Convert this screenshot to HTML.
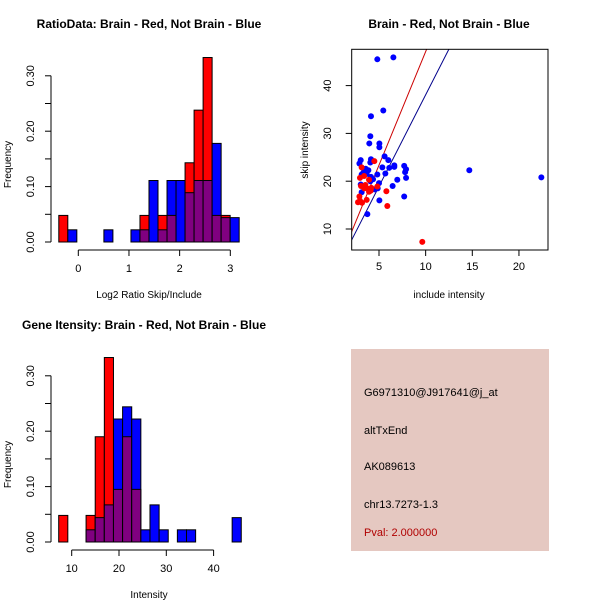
<!DOCTYPE html>
<html><head><meta charset="utf-8"><style>
body{margin:0;background:#fff}
svg text{font-family:"Liberation Sans",sans-serif}
</style></head><body>
<svg id="svg" width="600" height="600" xmlns="http://www.w3.org/2000/svg">
<rect width="600" height="600" fill="#fff"/>
<text x="149" y="28" font-size="12" font-weight="bold" text-anchor="middle">RatioData: Brain - Red, Not Brain - Blue</text>
<text x="449" y="28" font-size="12" font-weight="bold" text-anchor="middle">Brain - Red, Not Brain - Blue</text>
<text x="144" y="329" font-size="12" font-weight="bold" text-anchor="middle">Gene Itensity: Brain - Red, Not Brain - Blue</text>
<g id="p1"></g>
<g id="p2"></g>
<g id="p3"></g>
<g>
<rect x="351" y="349" width="198" height="202" fill="#e5c8c1"/>
<text x="364" y="396" font-size="11">G6971310@J917641@j_at</text>
<text x="364" y="434" font-size="11">altTxEnd</text>
<text x="364" y="470" font-size="11">AK089613</text>
<text x="364" y="508" font-size="11">chr13.7273-1.3</text>
<text x="364" y="536" font-size="11" fill="#b00000">Pval: 2.000000</text>
</g>
</svg>
<script>
// Ratio histogram data
const ratioBinStart = -0.385, ratioBinWidth = 0.178;
const ratioRed  = [0.048,0,0,0,0,0,0,0,0,0.048,0,0.048,0.048,0,0.143,0.238,0.333,0.048,0.048,0];
const ratioBlue = [0,0.022,0,0,0,0.022,0,0,0.022,0.022,0.111,0.022,0.111,0.111,0.089,0.111,0.111,0.178,0.044,0.044];
const ratioXTicks = [0,1,2,3];
const freqTicks = [0,0.05,0.10,0.15,0.20,0.25,0.30];
const freqLabels = ["0.00","","0.10","","0.20","","0.30"];
// Intensity histogram data
const intBinStart = 7.25, intBinWidth = 1.93;
const intRed  = [0.048,0,0,0.048,0.19,0.333,0.095,0.19,0.095,0,0,0,0,0,0,0,0,0,0,0];
const intBlue = [0,0,0,0.022,0.044,0.067,0.222,0.244,0.222,0.022,0.067,0.022,0,0.022,0.022,0,0,0,0,0.044];
const intXTicks = [10,20,30,40];
// Scatter data
const blueX = [4.82,6.54,5.46,4.14,4.07,3.96,5.04,5.04,5.6,6.0,3.04,4.14,4.07,2.9,5.36,6.1,6.64,6.64,7.7,7.9,7.8,5.68,4.82,3.57,3.86,3.32,3.68,3.14,4.14,4.36,4.07,6.96,7.9,5.0,3.04,3.14,6.46,4.86,4.54,3.14,7.7,5.04,3.75,14.68,22.4];
const blueY = [45.5,45.9,34.8,33.6,29.4,27.9,27.9,27.1,25.2,24.4,24.4,24.6,23.9,23.7,22.9,22.8,23.3,23.0,23.2,22.5,21.9,21.6,21.4,22.6,22.3,21.8,21.5,21.4,20.9,20.4,20.0,20.3,20.7,19.6,19.3,19.1,19.0,18.5,18.3,17.7,16.8,16.0,13.1,22.3,20.8];
const redX = [4.5,3.14,2.96,3.4,3.93,3.54,3.07,3.43,3.86,3.93,4.18,4.82,2.9,2.96,2.75,3.18,3.68,5.79,5.89,9.64,4.1];
const redY = [24.2,22.9,20.7,21.1,20.3,19.2,19.0,18.5,18.4,17.8,18.6,18.9,16.8,15.9,15.6,15.5,16.1,17.9,14.8,7.3,18.0];
const redFit = [-0.39,4.75], blueFit = [-0.23,3.83];
const scXTicks = [5,10,15,20], scYTicks = [10,20,30,40];

const NS="http://www.w3.org/2000/svg";
function mk(parent,tag,attrs){const e=document.createElementNS(NS,tag);for(const k in attrs)e.setAttribute(k,attrs[k]);parent.appendChild(e);return e;}

function hist(g,red,blue,start,width,xs,x0px,xTicks,y0,title){
  const ys=v=>y0-v*554;
  const xsc=v=>x0px+(v-xs[0])*xs[1];
  for(let i=0;i<red.length;i++){
    const r=red[i],b=blue[i];
    const L=xsc(start+i*width), R=xsc(start+(i+1)*width);
    const mx=Math.max(r,b), mn=Math.min(r,b);
    if(mx>0){
      const bar=mk(g,'rect',{x:L,y:ys(mx),width:R-L,height:ys(0)-ys(mx),fill:r>=b?'#ff0000':'#0000ff',stroke:'#000','stroke-width':1});
      
      
    }
    if(mn>0){
      const ov=mk(g,'rect',{x:L,y:ys(mn),width:R-L,height:ys(0)-ys(mn),fill:'#800080',stroke:'#000','stroke-width':1});
      
      
    }
  }
  const yax=mk(g,'g',{});
  
  
  mk(yax,'line',{x1:51,x2:51,y1:ys(0),y2:ys(0.30),stroke:'#000'});
  freqTicks.forEach((t,i)=>{
    mk(yax,'line',{x1:45,x2:51,y1:ys(t),y2:ys(t),stroke:'#000'});
    if(freqLabels[i]){const tx=mk(yax,'text',{x:0,y:0,'font-size':11,'text-anchor':'middle',transform:`translate(34,${ys(t)}) rotate(-90)`});tx.textContent=freqLabels[i];}
  });
  const yl=mk(g,'text',{'font-size':10,'text-anchor':'middle',transform:`translate(11,${ys(0.14)}) rotate(-90)`});
  yl.textContent='Frequency';
  
  
  const xax=mk(g,'g',{});
  
  
  const ay=y0+8;
  mk(xax,'line',{x1:xsc(xTicks[0]),x2:xsc(xTicks[xTicks.length-1]),y1:ay,y2:ay,stroke:'#000'});
  xTicks.forEach(t=>{mk(xax,'line',{x1:xsc(t),x2:xsc(t),y1:ay,y2:ay+6,stroke:'#000'});const tx=mk(xax,'text',{x:xsc(t),y:ay+22,'font-size':11,'text-anchor':'middle'});tx.textContent=t;});
  const xl=mk(g,'text',{x:149,y:y0+56,'font-size':10,'text-anchor':'middle'});
  xl.textContent=title;
  
  
}
hist(document.getElementById('p1'),ratioRed,ratioBlue,ratioBinStart,ratioBinWidth,[0,50.67],78.3,ratioXTicks,242,'Log2 Ratio Skip/Include');
hist(document.getElementById('p3'),intRed,intBlue,intBinStart,intBinWidth,[10,4.73],71.7,intXTicks,542,'Intensity');

// scatter
(function(){
  const g=document.getElementById('p2');
  const L=351.7,R=548,T=49.3,B=250;
  const xs=v=>379+(v-5)*9.33, ys=v=>229-(v-10)*4.78;
  const cp=mk(g,'clipPath',{id:'clip'});mk(cp,'rect',{x:L,y:T,width:R-L,height:B-T});
  [[redFit,'#cc0000','red-fit-line'],[blueFit,'#00008b','blue-fit-line']].forEach(([f,c,n])=>{
    const xa=1,xb=15;
    const ln=mk(g,'line',{x1:xs(xa),y1:ys(f[0]+f[1]*xa),x2:xs(xb),y2:ys(f[0]+f[1]*xb),stroke:c,'stroke-width':1,'clip-path':'url(#clip)'});
    
    
  });
  blueX.forEach((x,i)=>{const p=mk(g,'circle',{cx:xs(x),cy:ys(blueY[i]),r:3,fill:'#0000ff'});
    
    });
  redX.forEach((x,i)=>{const p=mk(g,'circle',{cx:xs(x),cy:ys(redY[i]),r:3,fill:'#ff0000'});
    
    });
  const box=mk(g,'rect',{x:L,y:T,width:R-L,height:B-T,fill:'none',stroke:'#000'});
  
  
  scXTicks.forEach(t=>{mk(g,'line',{x1:xs(t),x2:xs(t),y1:B,y2:B+6,stroke:'#000'});const tx=mk(g,'text',{x:xs(t),y:B+20,'font-size':11,'text-anchor':'middle'});tx.textContent=t;});
  scYTicks.forEach(t=>{mk(g,'line',{x1:L-6,x2:L,y1:ys(t),y2:ys(t),stroke:'#000'});const tx=mk(g,'text',{'font-size':11,'text-anchor':'middle',transform:`translate(331,${ys(t)}) rotate(-90)`});tx.textContent=t;});
  const xl=mk(g,'text',{x:449,y:298,'font-size':10,'text-anchor':'middle'});xl.textContent='include intensity';
  
  
  const yl=mk(g,'text',{'font-size':10,'text-anchor':'middle',transform:'translate(308,150) rotate(-90)'});yl.textContent='skip intensity';
  
  
})();
</script>
</body></html>
